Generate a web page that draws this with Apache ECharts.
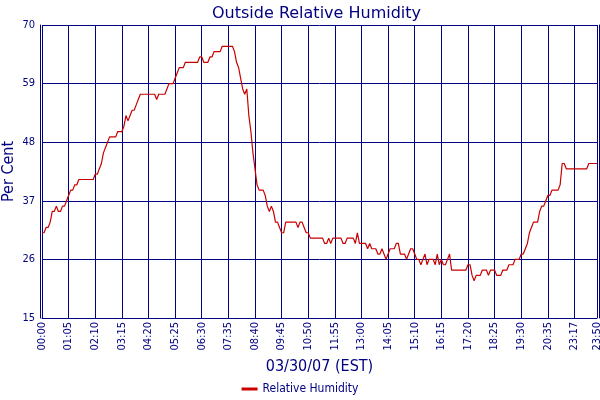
<!DOCTYPE html>
<html>
<head>
<meta charset="utf-8">
<script src="https://cdn.jsdelivr.net/npm/echarts@6/dist/echarts.min.js"></script>
<style>
html, body { margin: 0; padding: 0; background: #fff; }
#main { width: 600px; height: 400px; }
</style>
</head>
<body>
<div id="main"></div>
<script>
var FONT = "'DejaVu Sans Condensed', 'DejaVu Sans', sans-serif";
var TITLE_FONT = "'DejaVu Sans', sans-serif";
var NAVY = '#000080';

// readings every 5 minutes from 00:00 up to 20:35, then the later (sparser / denser) samples
var tailTimes = [
    '20:47', '21:00', '21:12', '21:25', '21:37', '21:50', '22:02', '22:15', '22:27', '22:40', '22:52', '23:05',
    '23:17', '23:20', '23:23', '23:26', '23:29', '23:32', '23:35', '23:38', '23:41', '23:44', '23:47', '23:50'
];

var humidity = [
    31, 31, 32, 32, 33, 35, 35, 36, 35, 35, 36, 36, 37, 38, 39, 39, 40, 40, 41, 41,
    41, 41, 41, 41, 41, 41, 42, 42, 43, 44, 46, 47, 48, 49, 49, 49, 49, 50, 50, 50,
    51, 53, 52, 53, 54, 54, 55, 56, 57, 57, 57, 57, 57, 57, 57, 57, 56, 57, 57, 57,
    57, 58, 59, 59, 59, 60, 61, 62, 62, 62, 63, 63, 63, 63, 63, 63, 63, 64, 64, 63,
    63, 63, 64, 64, 65, 65, 65, 65, 66, 66, 66, 66, 66, 66, 65, 63, 62, 60, 58, 57,
    58, 53, 50, 46, 43, 40, 39, 39, 39, 38, 36, 35, 36, 35, 33, 33, 32, 31, 31, 33,
    33, 33, 33, 33, 33, 32, 33, 33, 32, 31, 31, 30, 30, 30, 30, 30, 30, 30, 29, 29,
    30, 29, 30, 30, 30, 30, 30, 29, 29, 30, 30, 30, 30, 29, 31, 29, 29, 29, 29, 28,
    29, 28, 28, 28, 27, 27, 28, 27, 26, 27, 28, 28, 28, 29, 29, 27, 27, 27, 26, 27,
    28, 28, 27, 26, 26, 25, 26, 27, 25, 26, 26, 26, 25, 27, 25, 26, 25, 25, 26, 27,
    24, 24, 24, 24, 24, 24, 24, 24, 25, 25, 23, 22, 23, 23, 23, 24, 24, 24, 23, 24,
    24, 24, 23, 23, 23, 24, 24, 24, 25, 25, 25, 26, 26, 26, 27, 27, 28, 29, 31, 32,
    33, 33, 33, 35, 36, 36, 37, 38, 38, 39, 39, 39, 39, 40, 44, 44, 43, 43, 43, 43,
    43, 43, 43, 43, 43, 43, 43, 44, 44, 44, 44, 44
];

var yTicks = [15, 26, 37, 48, 59, 70];

var times = [];
for (var m = 0; m <= 20 * 60 + 35; m += 5) {
    var h = Math.floor(m / 60), mm = m % 60;
    times.push((h < 10 ? '0' : '') + h + ':' + (mm < 10 ? '0' : '') + mm);
}
times = times.concat(tailTimes);

var lastIdx = times.length - 1;
var showTick = function (i) {
    return i % 13 === 0 || i === lastIdx;
};

var myChart = echarts.init(document.getElementById('main'));

var option = {
    animation: false,
    textStyle: { fontFamily: FONT },
    title: {
        text: 'Outside Relative Humidity',
        left: 207,
        top: 1,
        textStyle: { color: NAVY, fontSize: 16, fontWeight: 'normal', fontFamily: TITLE_FONT }
    },
    legend: {
        top: 378,
        left: 'center',
        icon: 'rect',
        itemWidth: 16,
        itemHeight: 3,
        itemGap: 4,
        data: ['Relative Humidity'],
        textStyle: { color: NAVY, fontSize: 12, fontFamily: FONT }
    },
    grid: {
        left: 42,
        right: 3,
        top: 25,
        bottom: 82,
        containLabel: false,
        outerBoundsMode: 'none'
    },
    xAxis: {
        type: 'category',
        boundaryGap: false,
        data: times,
        name: '03/30/07 (EST)',
        nameLocation: 'middle',
        nameGap: 41,
        nameMoveOverlap: false,
        nameTextStyle: { color: NAVY, fontSize: 16, fontFamily: FONT },
        axisLine: { lineStyle: { color: NAVY, width: 1 } },
        axisTick: { show: false },
        axisLabel: {
            interval: showTick,
            rotate: 90,
            margin: 4,
            color: NAVY,
            fontSize: 11,
            fontFamily: FONT
        },
        splitLine: {
            show: true,
            interval: showTick,
            lineStyle: { color: NAVY, width: 1 }
        }
    },
    yAxis: [
        {
            type: 'value',
            min: yTicks[0],
            max: yTicks[yTicks.length - 1],
            interval: yTicks[1] - yTicks[0],
            offset: 2,
            name: 'Per Cent',
            nameLocation: 'middle',
            nameGap: 23,
            nameMoveOverlap: false,
            nameTextStyle: { color: NAVY, fontSize: 16, fontFamily: FONT },
            axisLine: { show: true, lineStyle: { color: NAVY, width: 1 } },
            axisTick: { show: false },
            axisLabel: { margin: 5, color: NAVY, fontSize: 11, fontFamily: FONT },
            splitLine: { show: true, lineStyle: { color: NAVY, width: 1 } }
        },
        {
            // outer frame line on the right
            type: 'value',
            position: 'right',
            min: yTicks[0],
            max: yTicks[yTicks.length - 1],
            interval: yTicks[1] - yTicks[0],
            offset: 2,
            axisLine: { show: true, lineStyle: { color: NAVY, width: 1 } },
            axisTick: { show: false },
            axisLabel: { show: false },
            splitLine: { show: false }
        }
    ],
    series: [
        {
            name: 'Relative Humidity',
            type: 'line',
            symbol: 'none',
            color: '#c80000',
            lineStyle: { color: '#c80000', width: 1.2 },
            data: humidity
        }
    ]
};

myChart.setOption(option);
</script>
</body>
</html>
